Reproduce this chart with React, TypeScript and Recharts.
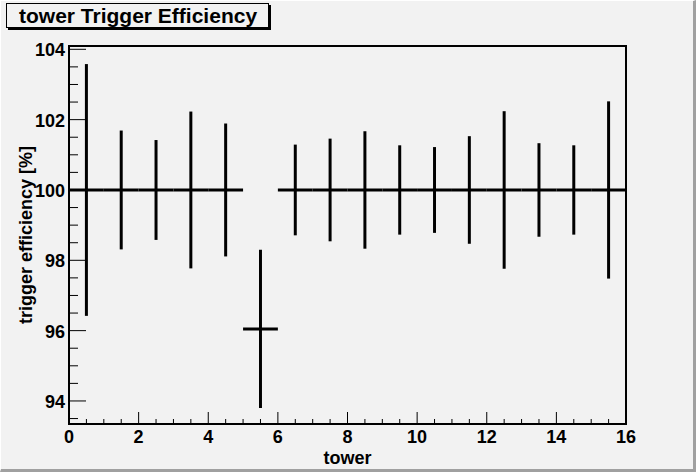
import React from 'react';
import { ScatterChart, Scatter, XAxis, YAxis, ErrorBar, ReferenceArea } from 'recharts';

// ---- data ----
const towers = [0.5, 1.5, 2.5, 3.5, 4.5, 5.5, 6.5, 7.5, 8.5, 9.5, 10.5, 11.5, 12.5, 13.5, 14.5, 15.5];
const efficiency = [100, 100, 100, 100, 100, 96.05, 100, 100, 100, 100, 100, 100, 100, 100, 100, 100];
const efficiencyErr = [3.58, 1.69, 1.42, 2.23, 1.89, 2.25, 1.29, 1.46, 1.67, 1.27, 1.22, 1.53, 2.24, 1.33, 1.27, 2.52];
const towerBinHalfWidth = [0.5, 0.5, 0.5, 0.5, 0.5, 0.5, 0.5, 0.5, 0.5, 0.5, 0.5, 0.5, 0.5, 0.5, 0.5, 0.5];

const xTicks = [0, 0.5, 1, 1.5, 2, 2.5, 3, 3.5, 4, 4.5, 5, 5.5, 6, 6.5, 7, 7.5, 8, 8.5, 9, 9.5, 10, 10.5, 11, 11.5, 12, 12.5, 13, 13.5, 14, 14.5, 15, 15.5, 16];
const xTickLabels = [0, 2, 4, 6, 8, 10, 12, 14, 16];
const yTicks = [93.5, 94, 94.5, 95, 95.5, 96, 96.5, 97, 97.5, 98, 98.5, 99, 99.5, 100, 100.5, 101, 101.5, 102, 102.5, 103, 103.5, 104];
const yTickLabels = [94, 96, 98, 100, 102, 104];
const xDomain = [0, 16];
const yDomain = [93.345, 104.094];

const title = 'tower Trigger Efficiency';
const xTitle = 'tower';
const yTitle = 'trigger efficiency [%]';

const rows = towers.map((t, i) => ({
  x: t,
  y: efficiency[i],
  ex: towerBinHalfWidth[i],
  ey: efficiencyErr[i],
}));

const FONT = '"Liberation Sans", Arial, Helvetica, sans-serif';
const BG = '#f2f2f2';

const XTick = (props: any) => {
  const { x, y, payload } = props;
  const v = payload.value;
  const major = xTickLabels.includes(v);
  return (
    <g>
      <line x1={x} x2={x} y1={y} y2={y - (major ? 12 : 5)} stroke="#000" strokeWidth={1} />
      {major && (
        <text x={x} y={y + 19} textAnchor="middle" fontFamily={FONT} fontWeight="bold" fontSize={18} fill="#000">
          {v}
        </text>
      )}
    </g>
  );
};

const YTick = (props: any) => {
  const { x, y, payload } = props;
  const v = payload.value;
  const major = yTickLabels.includes(v);
  return (
    <g>
      <line x1={x} x2={x + (major ? 17 : 9)} y1={y} y2={y} stroke="#000" strokeWidth={1} />
      {major && (
        <text x={x - 4} y={y + 7} textAnchor="end" fontFamily={FONT} fontWeight="bold" fontSize={18} fill="#000">
          {v}
        </text>
      )}
    </g>
  );
};

const XTitle = (props: any) => {
  const vb = props.viewBox;
  return (
    <text x={vb.x + vb.width / 2} y={vb.y + 40} textAnchor="middle" fontFamily={FONT} fontWeight="bold" fontSize={18} fill="#000">
      {xTitle}
    </text>
  );
};

const YTitle = (props: any) => {
  const vb = props.viewBox;
  const cx = vb.x + 32;
  const cy = vb.y + vb.height / 2;
  return (
    <text x={cx} y={cy} transform={`rotate(-90, ${cx}, ${cy})`} textAnchor="middle" fontFamily={FONT} fontWeight="bold" fontSize={18} fill="#000">
      {yTitle}
    </text>
  );
};

export default function App() {
  return (
    <div style={{ position: 'absolute', left: 0, top: 0, width: 696, height: 472, background: BG, overflow: 'hidden' }}>
      <div
        style={{
          position: 'absolute', left: 0, top: 0, width: 696, height: 472, boxSizing: 'border-box',
          borderLeft: '1px solid #ffffff', borderTop: '1px solid #ffffff',
          borderRight: '3px solid #a0a0a0', borderBottom: '3px solid #a0a0a0',
        }}
      />
      <div style={{ position: 'absolute', left: 0, top: 0 }}>
        <ScatterChart width={696} height={472} margin={{ top: 46, right: 70, bottom: 0, left: 0 }}>
          <XAxis
            type="number"
            dataKey="x"
            domain={xDomain}
            allowDataOverflow
            ticks={xTicks}
            interval={0}
            tick={<XTick />}
            tickLine={false}
            tickSize={0}
            tickMargin={0}
            axisLine={false}
            height={48}
            label={<XTitle />}
          />
          <YAxis
            type="number"
            dataKey="y"
            domain={yDomain}
            allowDataOverflow
            ticks={yTicks}
            interval={0}
            tick={<YTick />}
            tickLine={false}
            tickSize={0}
            tickMargin={0}
            axisLine={false}
            width={69}
            label={<YTitle />}
          />
          <ReferenceArea
            x1={xDomain[0]}
            x2={xDomain[1]}
            y1={yDomain[0]}
            y2={yDomain[1]}
            fill="none"
            fillOpacity={0}
            stroke="#000"
            strokeWidth={2}
            ifOverflow="visible"
          />
          <Scatter data={rows} isAnimationActive={false} shape={() => <g />}>
            <ErrorBar dataKey="ex" direction="x" width={0} stroke="#000" strokeWidth={3} isAnimationActive={false} />
            <ErrorBar dataKey="ey" direction="y" width={0} stroke="#000" strokeWidth={3} isAnimationActive={false} />
          </Scatter>
        </ScatterChart>
      </div>
      <svg width={696} height={472} style={{ position: 'absolute', left: 0, top: 0, pointerEvents: 'none' }}>
        <rect x={8} y={5} width={263} height={25} fill="#000" />
        <rect x={6.5} y={3.5} width={262} height={24} fill={BG} stroke="#000" strokeWidth={1} />
        <text x={19} y={23} fontFamily={FONT} fontWeight="bold" fontSize={21} fill="#000">
          {title}
        </text>
      </svg>
    </div>
  );
}
